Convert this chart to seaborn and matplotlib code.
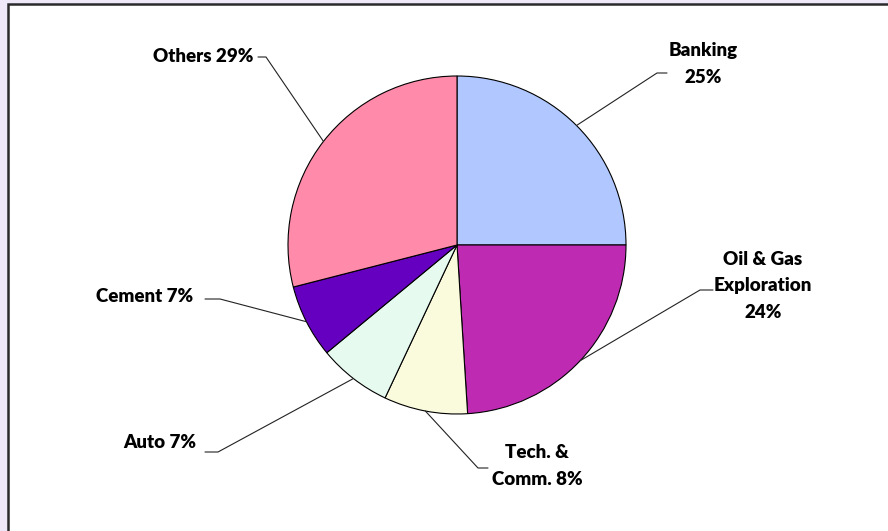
import numpy as np
import matplotlib
matplotlib.use("Agg")
import matplotlib.pyplot as plt
from matplotlib.patches import Rectangle
import seaborn as sns

# sector shares (%), clockwise from 12 o'clock
sectors = ['Banking', 'Oil & Gas Exploration', 'Tech. & Comm.', 'Auto', 'Cement', 'Others']
shares = [25, 24, 8, 7, 7, 29]
labels = ['Banking\n25%', 'Oil & Gas\nExploration\n24%', 'Tech. &\nComm. 8%',
          'Auto 7%', 'Cement 7%', 'Others 29%']
hex_colors = ['#B0C8FF', '#BF2AB3', '#FAFADC', '#E6FAF0', '#6600C0', '#FF8AAA']

W, H = 888, 531

# label placement in pixel coords (y down): text x, text y, ha, elbow, line end
label_layout = [
    (703, 64, 'center', (657, 73), (667, 73)),
    (763, 286, 'center', (700, 290), (713, 290)),
    (537, 466, 'center', (478, 468), (488, 468)),
    (196, 442, 'right', (218, 452), (205, 452)),
    (193, 297, 'right', (220, 299), (205, 299)),
    (253, 56, 'right', (266, 57), (258, 57)),
]


def flip(p):
    return p[0], H - p[1]


def run():
    sns.set_theme(style='white')
    plt.rcParams['font.family'] = ['Lato', 'DejaVu Sans']

    fig = plt.figure(figsize=(W / 100, H / 100), dpi=100)
    fig.patch.set_facecolor('#EEE8F8')
    ax = fig.add_axes([0, 0, 1, 1])
    ax.set_facecolor('none')

    ax.add_patch(Rectangle((8, -20), 900, H - 4 + 20, facecolor='white',
                           edgecolor='#2A2A2A', linewidth=1.8, zorder=0))

    cx, cy = flip((457, 245))
    r = 169
    wedges, _ = ax.pie(shares, colors=sns.color_palette(hex_colors), startangle=90,
                       counterclock=False, center=(cx, cy), radius=r,
                       wedgeprops=dict(edgecolor='black', linewidth=0.8))

    for w, lab, (tx, ty, ha, elbow, end) in zip(wedges, labels, label_layout):
        mid = np.deg2rad((w.theta1 + w.theta2) / 2)
        ex, ey = cx + r * np.cos(mid), cy + r * np.sin(mid)
        bx, by = flip(elbow)
        lx, ly = flip(end)
        ax.plot([ex, bx, lx], [ey, by, ly], color='#222222', lw=0.8, zorder=3)
        ax.text(tx, H - ty, lab, ha=ha, va='center', fontsize=13.5,
                fontweight='heavy', color='black', linespacing=1.65)

    ax.set_xlim(0, W)
    ax.set_ylim(0, H)
    ax.set_aspect('equal')
    ax.axis('off')
    fig.savefig('out.png', dpi=100, facecolor=fig.get_facecolor())


if __name__ == '__main__':
    run()
